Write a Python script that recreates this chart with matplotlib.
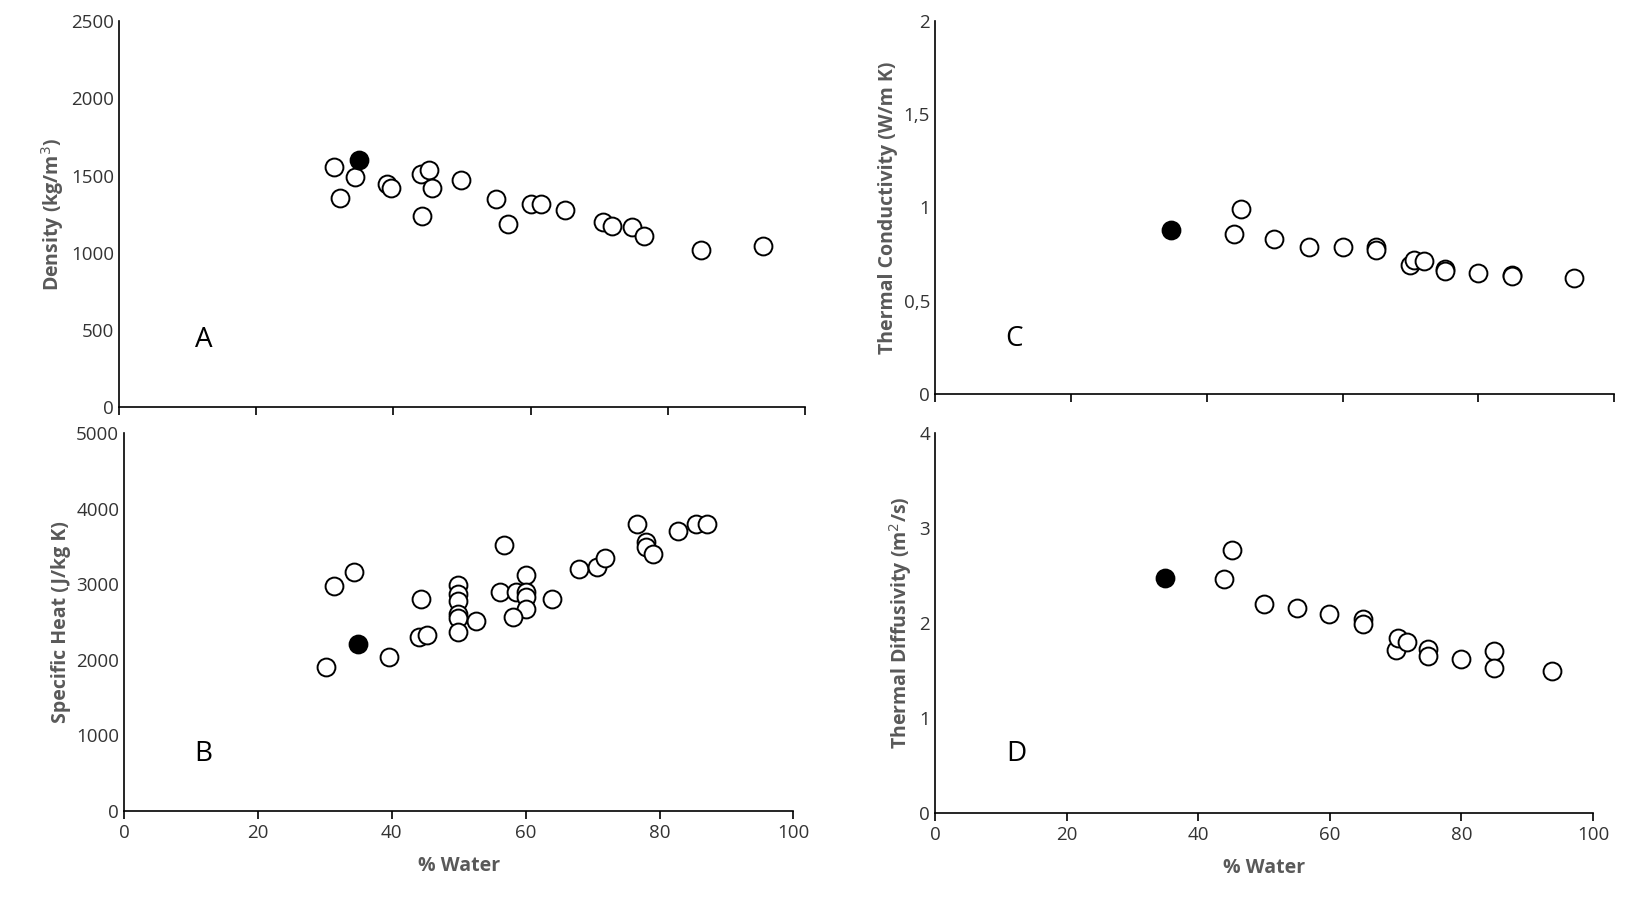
import matplotlib
matplotlib.use("Agg")
import matplotlib.pyplot as plt
from matplotlib.ticker import FuncFormatter

plt.rcParams['font.family'] = ['Open Sans', 'DejaVu Sans']

# Panel A: density
a_fx, a_fy = [35], [1600]
a_x = [31.4, 32.2, 34.4, 39, 39.7, 44, 45.2, 45.6, 44.2, 49.8, 54.9, 56.7, 60.1, 61.5, 65, 70.6, 71.9, 74.8, 76.5, 84.8, 93.9]
a_y = [1553, 1356, 1492, 1444, 1417, 1512, 1533, 1417, 1240, 1471, 1349, 1185, 1315, 1315, 1274, 1199, 1172, 1165, 1110, 1015, 1042]
# Panel B: specific heat
b_fx, b_fy = [35], [2214]
b_x = [30.1, 31.4, 34.4, 39.6, 44.4, 44, 45.2, 49.9, 49.9, 49.9, 49.9, 49.9, 49.9, 52.6, 56.7, 56.2, 58.6, 60, 60, 60, 60, 58.1, 63.9, 68, 70.6, 71.9, 76.6, 77.9, 77.9, 79, 82.7, 85.4, 87.1]
b_y = [1908, 2981, 3162, 2033, 2800, 2298, 2326, 2994, 2869, 2772, 2604, 2549, 2368, 2507, 3524, 2897, 2897, 3120, 2897, 2827, 2674, 2563, 2800, 3203, 3231, 3343, 3802, 3552, 3496, 3398, 3705, 3802, 3802]
# Panel C: thermal conductivity
c_fx, c_fy = [34.8], [0.88]
c_x = [45.1, 44, 49.9, 55, 60, 64.9, 64.9, 69.9, 70.5, 72, 75, 75, 80, 84.9, 84.9, 94]
c_y = [0.99, 0.86, 0.83, 0.79, 0.79, 0.79, 0.77, 0.69, 0.72, 0.71, 0.67, 0.66, 0.65, 0.64, 0.63, 0.62]
# Panel D: thermal diffusivity
d_fx, d_fy = [35], [2.47]
d_x = [43.9, 45.2, 50, 55, 59.9, 65, 65, 70, 70.4, 71.7, 75, 75, 79.9, 84.9, 84.9, 93.8]
d_y = [2.46, 2.77, 2.2, 2.16, 2.1, 2.04, 1.99, 1.72, 1.84, 1.8, 1.73, 1.65, 1.62, 1.71, 1.53, 1.5]

fig = plt.figure(figsize=(16.49, 8.97), dpi=100)
axA = fig.add_axes([0.0722, 0.5463, 0.416, 0.430])
axB = fig.add_axes([0.0752, 0.0959, 0.406, 0.4214])
axC = fig.add_axes([0.567, 0.5608, 0.412, 0.416])
axD = fig.add_axes([0.567, 0.0936, 0.399, 0.4236])

gray = '#595959'
panels = [
    (axA, a_x, a_y, a_fx, a_fy, 2500, 500, 'Density (kg/m$^3$)', 'A', (0.11, 0.174), False),
    (axB, b_x, b_y, b_fx, b_fy, 5000, 1000, 'Specific Heat (J/kg K)', 'B', (0.105, 0.15), True),
    (axC, c_x, c_y, c_fx, c_fy, 2, 0.5, 'Thermal Conductivity (W/m K)', 'C', (0.104, 0.146), False),
    (axD, d_x, d_y, d_fx, d_fy, 4, 1, 'Thermal Diffusivity (m$^2$/s)', 'D', (0.108, 0.155), True),
]
for ax, x, y, fx, fy, ymax, ystep, ylab, letter, lp, xl in panels:
    ax.scatter(x, y, s=165, facecolors='white', edgecolors='black', linewidths=1.4, zorder=3)
    ax.scatter(fx, fy, s=165, facecolors='black', edgecolors='black', linewidths=1.4, zorder=4)
    ax.set_xlim(0, 100)
    ax.set_ylim(0, ymax)
    ax.set_xticks(range(0, 101, 20))
    yt = [i * ystep for i in range(int(round(ymax / ystep)) + 1)]
    ax.set_yticks(yt)
    ax.yaxis.set_major_formatter(FuncFormatter(lambda v, p: ('%g' % v).replace('.', ',')))
    for s in ['top', 'right']:
        ax.spines[s].set_visible(False)
    for s in ['left', 'bottom']:
        ax.spines[s].set_color('black')
        ax.spines[s].set_linewidth(1.2)
    ax.tick_params(axis='both', direction='out', length=6, width=1.2, labelsize=13.5, labelcolor='#333333')
    ax.tick_params(axis='y', length=0)
    if not xl:
        ax.set_xticklabels([])
    else:
        ax.set_xlabel('% Water', fontsize=14, fontweight='bold', color=gray, labelpad=10)
    ax.set_ylabel(ylab, fontsize=14, fontweight='bold', color=gray)
    ax.text(lp[0], lp[1], letter, transform=ax.transAxes, fontsize=20, color='black', va='center', ha='left')

fig.savefig('out.png', dpi=100)
